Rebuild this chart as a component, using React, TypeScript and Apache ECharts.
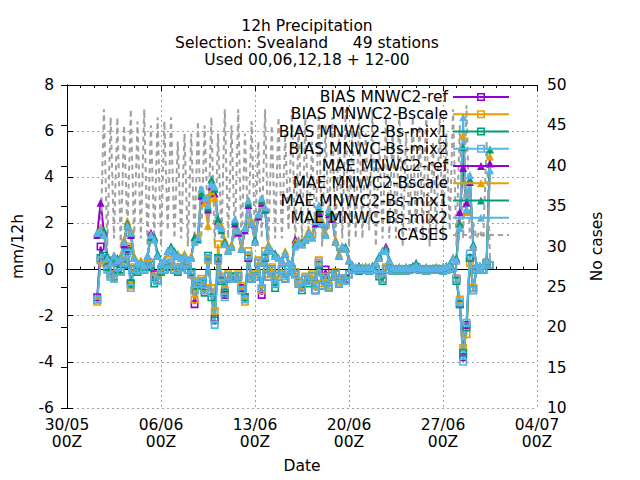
import { useEffect, useRef } from 'react'
import * as echarts from 'echarts'

const FONT = 'DejaVu Sans'

// x is days since 30/05 00Z; data every 6h starting 01/06 06Z
const xTickLabels = ['30/05\n00Z', '06/06\n00Z', '13/06\n00Z', '20/06\n00Z', '27/06\n00Z', '04/07\n00Z']
const firstDay = 2.25
const stepDays = 0.25

const maeRef = [
  1.5, 2.9, 1.6, 0.6, 0.3, 0.6, 0.4, 0.5, 1.1, 1.9,
  1.5, 0.5, 0.3, 0.3, 0.2, 0.6, 1.6, 1.4, 0.6, 0.3,
  0.4, 0.8, 1.0, 0.7, 0.6, 0.5, 0.6, 0.4, 0.5, 1.4,
  1.4, 3.2, 3.0, 2.6, 3.6, 3.3, 2.1, 1.8, 1.2, 0.8,
  1.0, 2.0, 1.6, 0.9, 1.7, 2.8, 2.0, 1.2, 2.3, 2.9,
  2.6, 1.0, 0.8, 0.6, 0.5, 0.4, 0.7, 0.3, 0.3, 1.3,
  1.2, 1.1, 1.3, 1.6, 1.4, 2.0, 2.5, 2.0, 1.5, 2.4,
  2.2, 1.2, 0.6, 1.0, 0.9, 0.4, 0.2, 0.1, 0.15, 0.1,
  0.1, 0.1, 0.15, 0.3, 0.5, 0.8, 1.0, 0.4, 0.1, 0.05,
  0.1, 0.05, 0.1, 0.05, 0.15, 0.25, 0.1, 0.05, 0.1, 0.05,
  0.05, 0.1, 0.05, 0.1, 0.15, 0.2, 0.5, 0.4, 2.5, 4.4,
  2.9, 3.8, 1.0, 0.2, 0.15, 0.2, 0.4, 4.6,
]
const maeBscale = [
  1.6, 1.8, 1.5, 0.5, 0.3, 0.5, 0.5, 0.6, 1.3, 2.1,
  1.7, 0.6, 0.3, 0.4, 0.2, 0.5, 1.5, 1.3, 0.6, 0.3,
  0.4, 0.7, 0.9, 0.7, 0.7, 0.5, 0.7, 0.4, 0.6, 1.3,
  1.5, 3.4, 2.9, 1.9, 3.4, 3.1, 2.0, 1.9, 1.3, 0.9,
  1.1, 2.1, 1.7, 1.0, 1.8, 3.0, 2.1, 1.2, 2.4, 3.0,
  2.7, 1.1, 0.8, 0.7, 0.5, 0.4, 0.8, 0.3, 0.3, 1.2,
  1.3, 1.1, 1.4, 1.7, 1.5, 2.2, 2.1, 2.1, 1.6, 2.65,
  2.3, 1.3, 0.7, 1.0, 0.9, 0.4, 0.2, 0.1, 0.1, 0.1,
  0.15, 0.1, 0.15, 0.3, 0.5, 0.8, 0.9, 0.4, 0.1, 0.05,
  0.1, 0.05, 0.1, 0.05, 0.15, 0.2, 0.1, 0.05, 0.1, 0.05,
  0.05, 0.1, 0.05, 0.1, 0.15, 0.2, 0.5, 0.4, 2.0, 5.8,
  2.5, 3.9, 1.0, 0.2, 0.15, 0.2, 0.4, 4.9,
]
const maeMix1 = [
  1.6, 1.7, 1.7, 0.6, 0.4, 0.6, 0.5, 0.5, 1.2, 2.0,
  1.6, 0.5, 0.3, 0.3, 0.2, 0.6, 1.4, 1.4, 0.7, 0.3,
  0.4, 0.8, 1.0, 0.8, 0.6, 0.5, 0.6, 0.4, 0.5, 1.4,
  1.3, 3.3, 3.1, 2.7, 3.9, 3.5, 2.2, 1.7, 1.2, 0.8,
  1.0, 2.1, 1.7, 0.9, 1.8, 2.9, 2.0, 1.3, 2.4, 3.0,
  2.6, 1.0, 0.8, 0.7, 0.5, 0.4, 0.7, 0.3, 0.3, 1.1,
  1.2, 1.2, 1.3, 1.6, 1.4, 2.1, 2.6, 2.0, 1.5, 2.5,
  2.4, 1.2, 0.6, 1.0, 1.0, 0.4, 0.2, 0.1, 0.15, 0.1,
  0.1, 0.1, 0.15, 0.3, 0.6, 0.8, 0.9, 0.4, 0.1, 0.05,
  0.1, 0.05, 0.1, 0.05, 0.15, 0.3, 0.1, 0.05, 0.1, 0.05,
  0.05, 0.1, 0.05, 0.1, 0.15, 0.25, 0.5, 0.5, 2.0, 5.3,
  2.6, 3.9, 1.1, 0.2, 0.15, 0.2, 0.4, 5.2,
]
const maeMix2 = [
  1.6, 1.7, 1.5, 0.5, 0.3, 0.6, 0.4, 0.5, 1.2, 1.9,
  1.6, 0.5, 0.3, 0.3, 0.2, 0.6, 1.5, 1.3, 0.6, 0.3,
  0.4, 0.8, 0.9, 0.7, 0.6, 0.5, 0.6, 0.4, 0.5, 1.2,
  1.4, 3.5, 3.1, 2.8, 3.7, 3.6, 1.9, 1.8, 1.1, 0.8,
  1.0, 2.2, 1.7, 0.9, 1.8, 3.0, 2.0, 1.2, 2.4, 3.1,
  2.7, 1.0, 0.8, 0.6, 0.5, 0.4, 0.7, 0.3, 0.3, 1.0,
  1.2, 1.1, 1.3, 1.6, 1.4, 2.1, 2.8, 2.0, 1.5, 2.6,
  2.3, 1.2, 0.6, 1.0, 0.9, 0.4, 0.2, 0.1, 0.1, 0.1,
  0.1, 0.1, 0.1, 0.3, 0.5, 0.8, 0.8, 0.4, 0.1, 0.05,
  0.1, 0.05, 0.1, 0.05, 0.1, 0.2, 0.1, 0.05, 0.1, 0.05,
  0.05, 0.1, 0.05, 0.1, 0.15, 0.2, 0.5, 0.4, 1.8, 6.6,
  2.6, 4.1, 1.0, 0.2, 0.15, 0.2, 0.4, 4.3,
]

const biasRef = [
  -1.2, 1.0, 0.5, 0.1, -0.2, -0.3, 0.1, 0.0, 0.3, 0.9,
  -0.6, 0.0, 0.0, 0.1, 0.0, 0.2, 0.3, -0.2, -0.5, 0.0,
  0.0, 0.2, 0.3, 0.0, 0.0, 0.1, 0.2, 0.0, -0.2, -1.5,
  -0.6, -0.5, -0.9, 0.5, -1.0, -2.1, 0.4, -0.4, -1.1, -0.3,
  -0.4, -0.4, -0.3, -0.8, -1.2, 0.5, -0.4, -0.3, 0.3, -1.1,
  0.6, -0.3, 0.0, -0.6, -0.3, 0.0, -0.4, -0.1, 0.0, -0.2,
  -0.6, -0.8, -0.4, -0.5, -0.3, -0.9, 0.3, -0.7, 0.0, -0.8,
  -0.3, -0.2, -0.6, -0.4, -0.4, -0.2, 0.0, 0.0, -0.05, 0.0,
  0.0, -0.05, 0.0, 0.0, -0.2, -0.4, 0.0, 0.0, -0.05, 0.0,
  0.0, 0.0, -0.05, 0.0, 0.05, 0.1, 0.0, 0.0, -0.05, 0.0,
  0.0, 0.0, 0.0, -0.05, 0.0, 0.05, 0.1, -0.4, -1.5, -3.8,
  -2.4, 0.5, -0.8, 0.0, 0.05, 0.0, 0.3, 0.2,
]
const biasBscale = [
  -1.4, 0.4, 0.3, 0.0, -0.2, -0.4, 0.1, -0.1, 0.4, 1.0,
  -0.7, 0.1, 0.0, 0.1, 0.0, 0.2, 0.3, -0.3, -0.4, 0.0,
  0.1, 0.2, 0.2, 0.1, 0.0, 0.1, 0.3, 0.0, -0.2, -1.3,
  -0.5, -0.4, -0.8, 0.4, -0.8, -1.8, 1.1, -0.3, -0.9, -0.2,
  -0.3, -0.3, -0.2, -0.7, -1.4, 0.8, -0.3, -0.2, 0.4, -0.9,
  0.8, -0.2, 0.1, -0.5, -0.2, 0.0, -0.3, -0.1, 0.0, -0.1,
  -0.5, -0.7, -0.3, -0.4, -0.2, -0.7, 0.4, -0.6, -0.3, -0.7,
  -0.2, -0.1, -0.5, -0.4, -0.5, -0.2, 0.0, 0.0, 0.0, 0.0,
  0.05, -0.05, 0.0, 0.0, -0.2, -0.4, 0.1, 0.0, -0.05, 0.0,
  0.0, 0.0, 0.0, 0.0, 0.05, 0.05, 0.0, 0.0, -0.05, 0.0,
  0.0, 0.05, 0.0, -0.05, 0.0, 0.05, 0.1, -0.4, -1.3, -3.4,
  -2.8, 0.3, -0.8, 0.0, 0.05, 0.0, 0.3, 0.2,
]
const biasMix1 = [
  -1.3, 0.5, 0.6, 0.1, -0.3, -0.3, 0.0, 0.0, 0.2, 0.8,
  -0.6, 0.0, -0.1, 0.1, 0.0, 0.1, 0.2, -0.6, -0.5, -0.1,
  0.0, 0.1, 0.3, 0.0, -0.1, 0.1, 0.2, 0.0, -0.1, -0.9,
  -0.7, -0.6, -1.0, 0.6, -1.2, -2.2, 0.5, -0.5, -1.0, -0.3,
  -0.4, -0.3, -0.3, -0.9, -1.2, 0.6, -0.4, -0.3, 0.3, -0.8,
  0.5, -0.3, 0.0, -0.8, -0.3, 0.0, -0.4, -0.1, 0.0, -0.2,
  -0.6, -0.9, -0.4, -0.6, -0.3, -0.9, 0.2, -0.7, -0.4, -0.8,
  -0.3, -0.2, -0.6, -0.4, -0.5, -0.2, 0.0, 0.0, -0.05, 0.0,
  0.0, -0.05, 0.0, 0.0, -0.3, -0.5, 0.0, 0.0, -0.05, 0.0,
  -0.05, 0.0, -0.05, 0.0, 0.05, 0.1, 0.0, 0.0, -0.05, 0.0,
  0.0, 0.0, 0.0, -0.05, 0.0, 0.05, 0.1, -0.5, -1.5, -3.6,
  -2.5, 0.5, -0.9, 0.0, 0.05, 0.0, 0.3, 0.2,
]
const biasMix2 = [
  -1.3, 0.4, 0.5, 0.0, -0.3, -0.4, 0.1, -0.1, 0.3, 0.7,
  -0.8, 0.0, 0.0, 0.0, 0.0, 0.2, 0.3, -0.4, -0.5, 0.0,
  0.0, 0.2, 0.3, 0.0, 0.0, 0.1, 0.2, 0.0, -0.2, -0.9,
  -0.6, -0.5, -0.9, 0.5, -1.0, -2.4, 0.4, -0.4, -1.2, -0.3,
  -0.4, -0.4, -0.3, -0.9, -1.3, 0.6, -0.4, -0.3, 0.3, -0.8,
  0.6, -0.3, 0.0, -0.6, -0.3, 0.0, -0.4, -0.1, 0.0, -0.2,
  -0.6, -0.8, -0.4, -0.5, -0.3, -0.9, 0.3, -0.7, -0.4, -0.8,
  -0.3, -0.2, -0.6, -0.4, -0.5, -0.2, 0.0, 0.0, 0.0, 0.0,
  0.0, -0.05, 0.0, 0.0, -0.2, -0.4, 0.0, 0.0, -0.05, 0.0,
  0.0, 0.0, -0.05, 0.0, 0.05, 0.05, 0.0, 0.0, -0.05, 0.0,
  0.0, 0.0, 0.0, -0.05, 0.0, 0.05, 0.1, -0.4, -1.4, -4.0,
  -2.3, 0.7, -0.9, 0.0, 0.05, 0.0, 0.3, 0.2,
]

const cases = [
  32, 31, 47, 30, 46, 31, 46, 30, 45, 32,
  47, 31, 45.5, 31, 47, 30, 45, 31, 46, 30,
  45.5, 32, 46, 31, 43, 31, 44, 30, 44, 31,
  45.5, 31, 45, 32, 46, 30, 44, 31, 47, 31,
  45, 31, 47, 30, 44, 32, 45.5, 31, 43, 31,
  47, 30, 45, 31, 46, 31, 44, 32, 47, 30,
  45, 31, 46, 31, 43, 31, 47, 30, 45, 32,
  46, 31, 44, 31, 47, 30, 45, 31, 46, 31,
  44, 32, 47, 30, 43, 31, 46, 31, 45, 31,
  47, 30, 44, 32, 46, 31, 45, 31, 47, 30,
  43, 31, 46, 31, 44, 32, 47, 30, 45, 31,
  47.5, 31, 33, 31, 32, 31, 43, 28.5,
]

const PURPLE = '#9400d3'
const ORANGE = '#e69f00'
const GREEN = '#009e73'
const BLUE = '#56b4e9'
const GREY = '#a0a0a0'

// open square (transparent centre) like gnuplot pt 4
const openSquare = 'path://M0,0H10V10H0Z M2,2V8H8V2Z'

const times = cases.map((_, i) => firstDay + i * stepDays)
const toPairs = (vals: number[]) => vals.map((v, i) => [times[i], v])

function lineSeries(name: string, vals: number[], color: string, symbol: string, size: number) {
  return {
    name,
    type: 'line',
    data: toPairs(vals),
    symbol,
    symbolSize: size,
    showSymbol: true,
    showAllSymbol: true,
    itemStyle: { color },
    lineStyle: { color, width: 2 },
    emphasis: { disabled: true },
  }
}

export default function App() {
  const chartRef = useRef<HTMLDivElement>(null)

  useEffect(() => {
    if (!chartRef.current) return
    document.body.style.margin = '0'

    const chart = echarts.init(chartRef.current, null, { renderer: 'svg' })

    const axisText = { color: '#000', fontFamily: FONT, fontSize: 15.5 }
    const dotted = { color: GREY, width: 1, type: [2, 3] }

    const series: any[] = [
      lineSeries('BIAS MNWC2-ref', biasRef, PURPLE, openSquare, 8),
      lineSeries('BIAS MNWC2-Bscale', biasBscale, ORANGE, openSquare, 8),
      lineSeries('BIAS MNWC2-Bs-mix1', biasMix1, GREEN, openSquare, 8),
      lineSeries('BIAS MNWC-Bs-mix2', biasMix2, BLUE, openSquare, 8),
      lineSeries('MAE MNWC2-ref', maeRef, PURPLE, 'triangle', 8),
      lineSeries('MAE MNWC2-Bscale', maeBscale, ORANGE, 'triangle', 8),
      lineSeries('MAE MNWC2-Bs-mix1', maeMix1, GREEN, 'triangle', 8),
      lineSeries('MAE MNWC-Bs-mix2', maeMix2, BLUE, 'triangle', 8),
      {
        name: 'CASES',
        type: 'line',
        yAxisIndex: 1,
        data: toPairs(cases),
        symbol: 'none',
        itemStyle: { color: GREY },
        lineStyle: { color: GREY, width: 2, type: [5, 4] },
        emphasis: { disabled: true },
      },
    ]

    const option = {
      animation: false,
      title: {
        text: '12h Precipitation\nSelection: Svealand     49 stations\nUsed 00,06,12,18 + 12-00',
        left: 302,
        top: 12,
        textAlign: 'center',
        textStyle: { ...axisText, fontWeight: 'normal', lineHeight: 17 },
      },
      legend: {
        orient: 'vertical',
        align: 'right',
        right: 125,
        top: 84,
        itemWidth: 56,
        itemHeight: 10,
        itemGap: 1.25,
        selectedMode: false,
        textStyle: { ...axisText, lineHeight: 16 },
        data: [
          'BIAS MNWC2-ref',
          'BIAS MNWC2-Bscale',
          'BIAS MNWC2-Bs-mix1',
          'BIAS MNWC-Bs-mix2',
          'MAE MNWC2-ref',
          'MAE MNWC2-Bscale',
          'MAE MNWC2-Bs-mix1',
          'MAE MNWC-Bs-mix2',
          { name: 'CASES', itemStyle: { color: 'rgba(0,0,0,0)' }, lineStyle: { color: GREY, width: 2, type: [5, 4] } },
        ],
      },
      grid: { left: 67, right: 103, top: 85, bottom: 72 },
      xAxis: [
        {
          type: 'value',
          min: 0,
          max: 35,
          interval: 7,
          name: 'Date',
          nameLocation: 'middle',
          nameGap: 50,
          nameTextStyle: axisText,
          axisLine: { lineStyle: { color: '#000', width: 1 } },
          axisTick: { inside: true, length: 6, lineStyle: { color: '#000' } },
          minorTick: { show: true, splitNumber: 7, length: 3, lineStyle: { color: '#000' } },
          axisLabel: {
            ...axisText,
            margin: 8,
            lineHeight: 17.5,
            formatter: (v: number) => xTickLabels[Math.round(v / 7)] ?? '',
          },
          splitLine: { show: true, lineStyle: dotted },
        },
        {
          type: 'value',
          position: 'top',
          min: 0,
          max: 35,
          interval: 7,
          axisLine: { lineStyle: { color: '#000', width: 1 } },
          axisTick: { inside: true, length: 6, lineStyle: { color: '#000' } },
          minorTick: { show: true, splitNumber: 7, length: 3, lineStyle: { color: '#000' } },
          axisLabel: { show: false },
          splitLine: { show: false },
        },
      ],
      yAxis: [
        {
          type: 'value',
          min: -6,
          max: 8,
          interval: 2,
          name: 'mm/12h',
          nameLocation: 'middle',
          nameRotate: 90,
          nameGap: 41,
          nameTextStyle: axisText,
          axisLine: { show: true, lineStyle: { color: '#000', width: 1 } },
          axisTick: { show: true, inside: true, length: 6, lineStyle: { color: '#000' } },
          axisLabel: { ...axisText, margin: 13 },
          splitLine: { show: true, lineStyle: dotted },
        },
        {
          type: 'value',
          position: 'right',
          min: 10,
          max: 50,
          interval: 5,
          name: 'No cases',
          nameLocation: 'middle',
          nameRotate: 90,
          nameGap: 52,
          nameTextStyle: axisText,
          axisLine: { show: true, lineStyle: { color: '#000', width: 1 } },
          axisTick: { show: true, inside: true, length: 6, lineStyle: { color: '#000' } },
          axisLabel: { ...axisText, margin: 10 },
          splitLine: { show: false },
        },
      ],
      series,
    }

    chart.setOption(option)

    return () => {
      chart.dispose()
    }
  }, [])

  return <div ref={chartRef} style={{ width: 640, height: 480 }} />
}
